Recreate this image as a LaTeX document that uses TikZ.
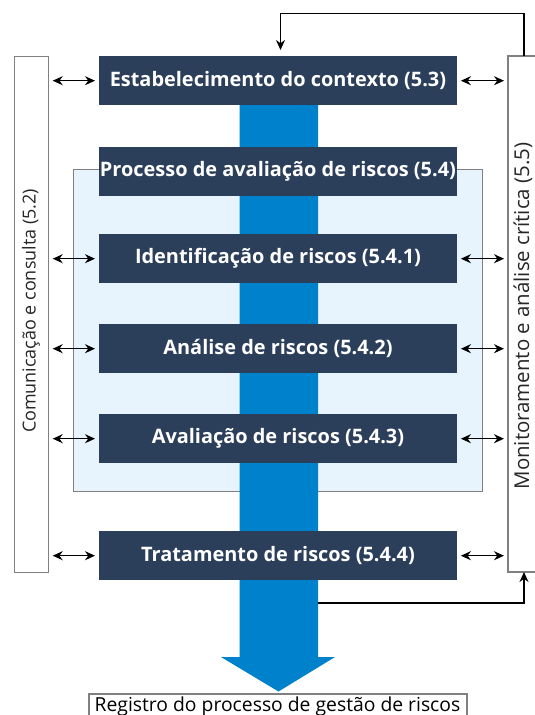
\documentclass[tikz,border=0pt]{standalone}
\usepackage{fontspec}
\setmainfont{Open Sans}
\usetikzlibrary{arrows.meta}
\definecolor{navy}{HTML}{2B3E5A}
\definecolor{flowblue}{HTML}{0081CB}
\definecolor{paleblue}{HTML}{E7F4FD}
\definecolor{edgegray}{HTML}{808080}
\tikzset{
  stepbox/.style={fill=navy, text=white, font=\bfseries\fontsize{20}{22}\selectfont,
    minimum width=357.5bp, minimum height=49bp, inner sep=0pt, anchor=north west},
  sidetext/.style={rotate=90, text=black!85},
  dbl/.style={{Stealth[length=10bp,width=9bp]}-{Stealth[length=10bp,width=9bp]}, line width=1.3bp, shorten <=4bp, shorten >=4bp},
  fb/.style={-{Stealth[length=10bp,width=9bp]}, line width=1.2bp},
}
\begin{document}
\begin{tikzpicture}[x=1bp,y=-1bp]
\useasboundingbox (0,0) rectangle (535,715);
% light blue region
\node[draw=edgegray, line width=1.2bp, fill=paleblue, minimum width=409bp, minimum height=322bp, inner sep=0pt, anchor=north west] (assess) at (73,169) {};
% big flow arrow
\fill[flowblue] (239.5,80) -- (318,80) -- (318,657) -- (335,657) -- (278.5,691.5) -- (221,657) -- (239.5,657) -- cycle;
\coordinate (shaftR) at (318,603);
% boxes
\node[stepbox] (ctx) at (99,56) {Estabelecimento do contexto (5.3)};
\node[stepbox] (proc) at (99,147) {Processo de avaliação de riscos (5.4)};
\node[stepbox] (ident) at (99,234) {Identificação de riscos (5.4.1)};
\node[stepbox] (anal) at (99,324) {Análise de riscos (5.4.2)};
\node[stepbox] (aval) at (99,414) {Avaliação de riscos (5.4.3)};
\node[stepbox] (trat) at (99,531) {Tratamento de riscos (5.4.4)};
% left box
\node[draw=edgegray, line width=1.2bp, minimum width=34bp, minimum height=516bp, inner sep=0pt, anchor=north west] (com) at (13.5,56) {};
\node[sidetext, font=\fontsize{18}{20}\selectfont] (comtext) at (31,311) {Comunicação e consulta (5.2)};
% right box (open to the right)
\draw[edgegray, line width=1.2bp] (545,56) -- (508,56) -- (508,572) -- (545,572);
\coordinate (mon) at (508,56);
\coordinate (monTop) at (524,56);
\coordinate (monBot) at (524,572);
\node[sidetext, font=\fontsize{20.5}{22}\selectfont] (montext) at (523,316) {Monitoramento e análise crítica (5.5)};
% double arrows
\foreach \b in {ctx,ident,anal,aval,trat}{
  \draw[dbl] (com.east |- \b.west) -- (\b.west);
  \draw[dbl] (\b.east) -- (mon |- \b.east);
}
% feedback lines
\draw[fb] (monTop) -- (524,13.5) -- (280.5,13.5) -- (280.5,50);
\draw[fb] (shaftR) -- (524,603) -- (monBot);
% record box
\draw[edgegray, line width=1.2bp] (89,720) -- (89,694) -- (467,694) -- (467,720);
\node[font=\fontsize{19.4}{21}\selectfont, text=black, anchor=base] (reg) at (277.5,711) {Registro do processo de gestão de riscos};
\end{tikzpicture}
\end{document}
